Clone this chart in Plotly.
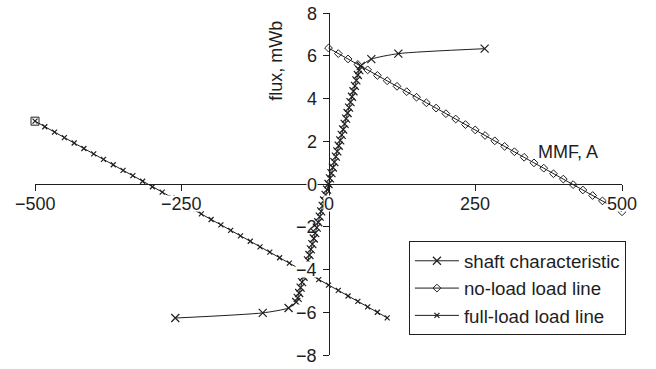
import plotly.graph_objects as go

# ---------------- data ----------------
shaft_mmf = [-261, -112, -68, -55, -52.5, -50, -47.5, -45, -42.5, -40, -37.5, -35, -32.5, -30,
             -27.5, -25, -22.5, -20, -17.5, -15, -12.5, -10, -7.5, -5, -2.5,
             0, 2.5, 5, 7.5, 10, 12.5, 15, 17.5, 20, 22.5, 25, 27.5, 30, 32.5, 35,
             37.5, 40, 42.5, 45, 47.5, 50, 52.5, 55, 73, 119, 266]
shaft_flux = [-6.27, -6.03, -5.80, -5.52, -5.33, -5.10, -4.85, -4.59, -4.34, -4.08, -3.83, -3.57, -3.32, -3.06,
              -2.81, -2.55, -2.30, -2.04, -1.79, -1.53, -1.28, -1.02, -0.77, -0.51, -0.26,
              0.00, 0.26, 0.51, 0.77, 1.02, 1.28, 1.53, 1.79, 2.04, 2.30, 2.55, 2.81, 3.06, 3.32, 3.57,
              3.83, 4.08, 4.34, 4.59, 4.85, 5.10, 5.33, 5.52, 5.84, 6.10, 6.33]

noload_mmf = [0, 16.7, 33.3, 50, 66.7, 83.3, 100, 116.7, 133.3, 150, 166.7, 183.3, 200, 216.7, 233.3,
              250, 266.7, 283.3, 300, 316.7, 333.3, 350, 366.7, 383.3, 400, 416.7, 433.3, 450, 466.7,
              483.3, 500]
noload_flux = [6.36, 6.10, 5.85, 5.59, 5.34, 5.08, 4.83, 4.57, 4.32, 4.06, 3.80, 3.55, 3.29, 3.04, 2.78,
               2.53, 2.27, 2.02, 1.76, 1.51, 1.25, 0.99, 0.74, 0.48, 0.23, -0.03, -0.28, -0.54, -0.79,
               -1.05, -1.30]

fullload_mmf = [-500, -483.3, -466.7, -450, -433.3, -416.7, -400, -383.3, -366.7, -350, -333.3, -316.7,
                -300, -283.3, -266.7, -250, -233.3, -216.7, -200, -183.3, -166.7, -150, -133.3, -116.7,
                -100, -83.3, -66.7, -50, -33.3, -16.7, 0, 16.7, 33.3, 50, 66.7, 83.3, 100]
fullload_flux = [2.94, 2.68, 2.43, 2.17, 1.92, 1.66, 1.41, 1.15, 0.90, 0.64, 0.39, 0.13,
                 -0.13, -0.38, -0.64, -0.89, -1.15, -1.40, -1.66, -1.91, -2.17, -2.43, -2.68, -2.94,
                 -3.19, -3.45, -3.70, -3.96, -4.21, -4.47, -4.73, -4.98, -5.24, -5.49, -5.75, -6.00, -6.26]

end_mmf = [-500, 503]
end_flux = [2.94, -1.48]

x_ticks = [-500, -250, 0, 250, 500]
x_tick_text = ["\u2212500", "\u2212250", "0", "250", "500"]
y_ticks = [8, 6, 4, 2, 0, -2, -4, -6, -8]
y_tick_text = ["8", "6", "4", "2", "0", "\u22122", "\u22124", "\u22126", "\u22128"]

FONT = "Liberation Sans, Arial, sans-serif"
INK = "#1e1e1e"

fig = go.Figure()
fig.add_trace(go.Scatter(
    x=shaft_mmf, y=shaft_flux, mode="lines+markers", name="shaft characteristic",
    line=dict(color=INK, width=1, shape="spline", smoothing=0.6),
    marker=dict(symbol="x-thin", size=8, color=INK, line=dict(width=1.2, color=INK)),
    cliponaxis=False))
fig.add_trace(go.Scatter(
    x=noload_mmf, y=noload_flux, mode="lines+markers", name="no-load load line",
    line=dict(color=INK, width=1),
    marker=dict(symbol="diamond-open", size=6, color=INK, line=dict(width=1, color=INK)),
    cliponaxis=False))
fig.add_trace(go.Scatter(
    x=fullload_mmf, y=fullload_flux, mode="lines+markers", name="full-load load line",
    line=dict(color=INK, width=1),
    marker=dict(symbol="x-thin", size=5, color=INK, line=dict(width=1.2, color=INK)),
    cliponaxis=False))
fig.add_trace(go.Scatter(
    x=end_mmf, y=end_flux, mode="markers", showlegend=False,
    marker=dict(symbol="square-open", size=8, color=INK, line=dict(width=1, color=INK)),
    cliponaxis=False))

annotations = []
for v, t in zip(x_ticks, x_tick_text):
    annotations.append(dict(x=v, y=0, xref="x", yref="y", text=t, showarrow=False,
                            xanchor="center", yanchor="middle", yshift=-19, height=15,
                            font=dict(family=FONT, size=18, color=INK),
                            bgcolor="white", borderpad=0))
for v, t in zip(y_ticks, y_tick_text):
    annotations.append(dict(x=0, y=v, xref="x", yref="y", text=t, showarrow=False,
                            xanchor="right", yanchor="middle", xshift=-11, height=15,
                            font=dict(family=FONT, size=18, color=INK),
                            bgcolor=None if v == -2 else "white", borderpad=0))
annotations.append(dict(x=-90, y=5.75, xref="x", yref="y", text="flux, mWb", showarrow=False,
                        textangle=-90, xanchor="center", yanchor="middle",
                        font=dict(family=FONT, size=18, color=INK)))
annotations.append(dict(x=354, y=1.52, xref="x", yref="y", text="MMF, A", showarrow=False,
                        xanchor="left", yanchor="middle",
                        font=dict(family=FONT, size=18, color=INK)))

fig.update_layout(
    width=656, height=369,
    margin=dict(l=35, r=34, t=13, b=14),
    paper_bgcolor="white", plot_bgcolor="white",
    font=dict(family=FONT, size=18, color=INK),
    xaxis=dict(range=[-500, 500], anchor="free", position=0.5, showgrid=False, zeroline=False,
               showline=True, linecolor=INK, linewidth=1, ticks="outside", ticklen=6,
               tickcolor=INK, tickwidth=1, tickvals=x_ticks, showticklabels=False),
    yaxis=dict(range=[-8, 8], anchor="free", position=0.5, showgrid=False, zeroline=False,
               showline=True, linecolor=INK, linewidth=1, ticks="outside", ticklen=6,
               tickcolor=INK, tickwidth=1, tickvals=y_ticks, showticklabels=False),
    legend=dict(x=0.637, y=0.333, xanchor="left", yanchor="top", bgcolor="white",
                bordercolor=INK, borderwidth=1, font=dict(family=FONT, size=18.7, color=INK),
                tracegroupgap=0, itemwidth=44),
    annotations=annotations,
    showlegend=True,
)

fig.write_html("out.html")
